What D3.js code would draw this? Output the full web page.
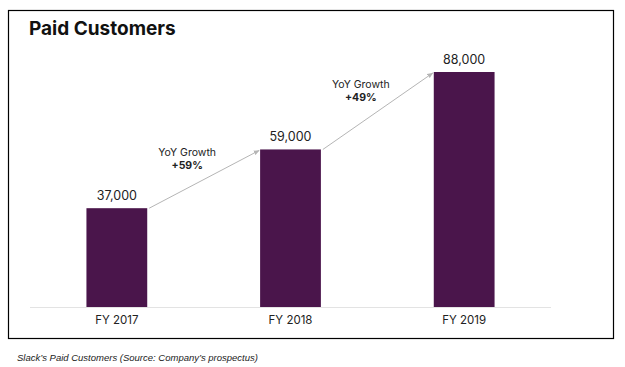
<!DOCTYPE html>
<html>
<head>
<meta charset="utf-8">
<script src="https://cdn.jsdelivr.net/npm/d3@7"></script>
<style>
  body { margin: 0; background: #fff; }
  svg { display: block; }
</style>
</head>
<body>
<script>
// chart data
const years = ['FY 2017', 'FY 2018', 'FY 2019']
const customers = [37000, 59000, 88000]
const growthLabels = ['+59%', '+49%']

const m = { width: 625, height: 367 }

const svg = d3.select('body').append('svg')
    .attr('width', m.width)
    .attr('height', m.height)

// frame around the slide
svg.append('rect')
    .attr('x', 8.5).attr('y', 10.5)
    .attr('width', 605).attr('height', 328)
    .attr('fill', 'none')
    .attr('stroke', '#000')
    .attr('stroke-width', 1.2)

svg.append('text')
    .attr('x', 29).attr('y', 35)
    .attr('font-family', 'Inter, sans-serif')
    .attr('font-weight', 700)
    .attr('font-size', 19)
    .attr('fill', '#111')
    .text('Paid Customers')

const x = d3.scaleBand()
    .domain(years)
    .range([30, 551])

const y = d3.scaleLinear()
    .domain([0, 88000])
    .range([307, 72])

const barW = x.bandwidth() * 0.35
const left = d => x(d) + (x.bandwidth() - barW) / 2

// baseline
svg.append('line')
    .attr('x1', x.range()[0]).attr('x2', x.range()[1])
    .attr('y1', y(0) + 0.5).attr('y2', y(0) + 0.5)
    .attr('stroke', '#e3e3e3')
    .attr('stroke-width', 1)

svg.append('defs').append('marker')
    .attr('id', 'arrow')
    .attr('viewBox', '0 0 10 10')
    .attr('refX', 9).attr('refY', 5)
    .attr('markerWidth', 6).attr('markerHeight', 6)
    .attr('orient', 'auto')
  .append('path')
    .attr('d', 'M0,1 L10,5 L0,9 Z')
    .attr('fill', '#b5b5b5')

const g = svg.append('g')

g.selectAll('.bar')
    .data(customers)
    .enter()
    .append('rect')
        .attr('class', 'bar')
        .attr('x', (d, i) => left(years[i]))
        .attr('y', d => y(d))
        .attr('width', barW)
        .attr('height', d => y(0) - y(d))
        .attr('fill', '#4A154B')

g.selectAll('.val')
    .data(customers)
    .enter()
    .append('text')
        .attr('x', (d, i) => x(years[i]) + x.bandwidth() / 2)
        .attr('y', d => y(d) - 8)
        .attr('text-anchor', 'middle')
        .attr('font-family', 'Inter, sans-serif')
        .attr('font-size', 12.5)
        .attr('fill', '#222')
        .text(d => d3.format(',')(d))

g.selectAll('.cat')
    .data(years)
    .enter()
    .append('text')
        .attr('x', d => x(d) + x.bandwidth() / 2)
        .attr('y', y(0) + 17)
        .attr('text-anchor', 'middle')
        .attr('font-family', 'Inter, sans-serif')
        .attr('font-size', 11.5)
        .attr('fill', '#222')
        .text(d => d)

// growth arrows between bar tops
growthLabels.forEach(function(lbl, i) {
    const x1 = left(years[i]) + barW + 2
    const y1 = y(customers[i])
    const x2 = left(years[i + 1]) - 1
    const y2 = y(customers[i + 1]) + 1
    g.append('line')
        .attr('x1', x1).attr('y1', y1)
        .attr('x2', x2).attr('y2', y2)
        .attr('stroke', '#b5b5b5')
        .attr('stroke-width', 1)
        .attr('marker-end', 'url(#arrow)')

    const cx = (x1 + x2) / 2 - 17
    const cy = (y1 + y2) / 2 - 23
    g.append('text')
        .attr('x', cx).attr('y', cy)
        .attr('text-anchor', 'middle')
        .attr('font-family', 'Inter, sans-serif')
        .attr('font-size', 10.5)
        .attr('fill', '#222')
        .text('YoY Growth')
    g.append('text')
        .attr('x', cx).attr('y', cy + 12.5)
        .attr('text-anchor', 'middle')
        .attr('font-family', 'Inter, sans-serif')
        .attr('font-weight', 700)
        .attr('font-size', 10.5)
        .attr('fill', '#222')
        .text(lbl)
})

svg.append('text')
    .attr('x', 17).attr('y', 361)
    .attr('font-family', '"Liberation Sans", sans-serif')
    .attr('font-style', 'italic')
    .attr('font-size', 9.5)
    .attr('fill', '#222')
    .text('Slack\u2019s Paid Customers (Source: Company\u2019s prospectus)')
</script>
</body>
</html>
